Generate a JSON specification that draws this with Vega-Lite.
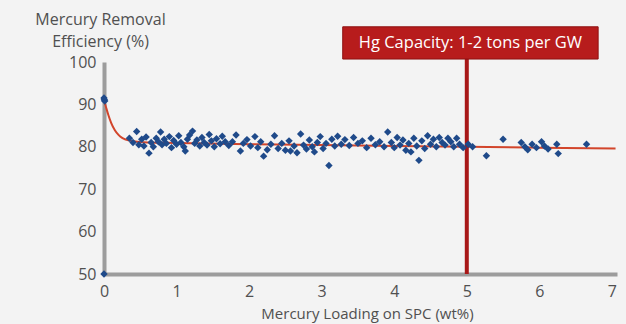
{
  "$schema": "https://vega.github.io/schema/vega-lite/v6.json",
  "width": 513,
  "height": 212,
  "autosize": {"type": "none"},
  "padding": {"left": 104, "top": 62, "right": 9, "bottom": 50},
  "background": "#f3f3f3",
  "config": {
    "view": {"stroke": null},
    "font": "Open Sans",
    "axis": {
      "domainColor": "#9c9c9c",
      "domainWidth": 4,
      "ticks": false,
      "grid": false,
      "zindex": 0,
      "labelFlush": false,
      "labelFont": "Open Sans",
      "labelFontSize": 16,
      "labelColor": "#505050",
      "titleFont": "Open Sans",
      "titleFontSize": 15,
      "titleFontWeight": "normal",
      "titleColor": "#505050"
    }
  },
  "datasets": {
    "points": [
      {"x": 0, "y": 91.5}, {"x": 0.01, "y": 90.8}, {"x": 0.005, "y": 91.1}, {"x": 0, "y": 50},
      {"x": 0.35, "y": 82.0}, {"x": 0.4, "y": 81.0}, {"x": 0.45, "y": 83.6}, {"x": 0.48, "y": 80.5},
      {"x": 0.52, "y": 81.8}, {"x": 0.55, "y": 80.2}, {"x": 0.58, "y": 82.3}, {"x": 0.62, "y": 78.5},
      {"x": 0.65, "y": 81.0}, {"x": 0.68, "y": 80.0}, {"x": 0.72, "y": 82.0}, {"x": 0.75, "y": 81.2},
      {"x": 0.78, "y": 83.5}, {"x": 0.8, "y": 80.5}, {"x": 0.83, "y": 81.8}, {"x": 0.86, "y": 80.8},
      {"x": 0.9, "y": 82.4}, {"x": 0.93, "y": 79.8}, {"x": 0.96, "y": 81.5}, {"x": 1.0, "y": 80.6},
      {"x": 1.03, "y": 82.6}, {"x": 1.06, "y": 81.0}, {"x": 1.1, "y": 80.0}, {"x": 1.12, "y": 79.0},
      {"x": 1.15, "y": 81.8}, {"x": 1.18, "y": 82.8}, {"x": 1.22, "y": 83.7}, {"x": 1.25, "y": 80.8},
      {"x": 1.28, "y": 81.6}, {"x": 1.32, "y": 80.2}, {"x": 1.35, "y": 82.2}, {"x": 1.38, "y": 81.0},
      {"x": 1.42, "y": 80.4}, {"x": 1.45, "y": 82.9}, {"x": 1.48, "y": 81.4}, {"x": 1.52, "y": 80.0},
      {"x": 1.55, "y": 81.9}, {"x": 1.6, "y": 80.7}, {"x": 1.63, "y": 82.5}, {"x": 1.67, "y": 81.2},
      {"x": 1.72, "y": 80.3}, {"x": 1.77, "y": 81.2}, {"x": 1.82, "y": 82.8}, {"x": 1.88, "y": 79.0},
      {"x": 1.92, "y": 80.8}, {"x": 1.97, "y": 81.7}, {"x": 2.02, "y": 80.2}, {"x": 2.08, "y": 82.4},
      {"x": 2.12, "y": 79.8}, {"x": 2.16, "y": 81.2}, {"x": 2.2, "y": 77.8}, {"x": 2.25, "y": 79.3},
      {"x": 2.3, "y": 80.6}, {"x": 2.35, "y": 82.6}, {"x": 2.4, "y": 79.6}, {"x": 2.45, "y": 80.8},
      {"x": 2.5, "y": 79.2}, {"x": 2.55, "y": 81.4}, {"x": 2.57, "y": 79.0}, {"x": 2.62, "y": 80.2},
      {"x": 2.66, "y": 78.6}, {"x": 2.71, "y": 83.0}, {"x": 2.75, "y": 80.4}, {"x": 2.79, "y": 79.5},
      {"x": 2.83, "y": 81.6}, {"x": 2.87, "y": 80.0}, {"x": 2.9, "y": 78.8}, {"x": 2.94, "y": 81.0},
      {"x": 2.98, "y": 82.4}, {"x": 3.02, "y": 79.6}, {"x": 3.06, "y": 80.8}, {"x": 3.1, "y": 75.6},
      {"x": 3.14, "y": 81.8}, {"x": 3.18, "y": 80.2}, {"x": 3.22, "y": 82.5}, {"x": 3.27, "y": 80.6},
      {"x": 3.32, "y": 81.7}, {"x": 3.38, "y": 80.3}, {"x": 3.44, "y": 82.2}, {"x": 3.5, "y": 80.8},
      {"x": 3.56, "y": 81.4}, {"x": 3.62, "y": 79.8}, {"x": 3.68, "y": 82.0}, {"x": 3.74, "y": 80.5},
      {"x": 3.8, "y": 81.2}, {"x": 3.86, "y": 80.0}, {"x": 3.91, "y": 83.5}, {"x": 3.96, "y": 81.0},
      {"x": 4.0, "y": 79.8}, {"x": 4.04, "y": 82.2}, {"x": 4.08, "y": 80.4}, {"x": 4.12, "y": 81.6},
      {"x": 4.16, "y": 79.2}, {"x": 4.2, "y": 80.8}, {"x": 4.23, "y": 78.8}, {"x": 4.27, "y": 82.0},
      {"x": 4.31, "y": 80.2}, {"x": 4.34, "y": 76.8}, {"x": 4.38, "y": 81.4}, {"x": 4.42, "y": 79.6},
      {"x": 4.46, "y": 82.6}, {"x": 4.5, "y": 80.6}, {"x": 4.54, "y": 81.8}, {"x": 4.58, "y": 80.0},
      {"x": 4.62, "y": 82.2}, {"x": 4.66, "y": 81.0}, {"x": 4.7, "y": 80.4}, {"x": 4.74, "y": 82.0},
      {"x": 4.78, "y": 81.2}, {"x": 4.82, "y": 80.0}, {"x": 4.86, "y": 82.0}, {"x": 4.9, "y": 80.6},
      {"x": 4.95, "y": 79.8}, {"x": 5.02, "y": 80.6}, {"x": 5.08, "y": 80.0}, {"x": 5.27, "y": 77.9},
      {"x": 5.5, "y": 81.8}, {"x": 5.75, "y": 81.0}, {"x": 5.8, "y": 80.0}, {"x": 5.84, "y": 79.3},
      {"x": 5.9, "y": 80.6}, {"x": 5.96, "y": 79.8}, {"x": 6.03, "y": 81.2}, {"x": 6.07, "y": 80.2},
      {"x": 6.12, "y": 79.5}, {"x": 6.24, "y": 80.6}, {"x": 6.26, "y": 78.4}, {"x": 6.65, "y": 80.6}
    ],
    "fit": [
      {"x": 0, "y": 91}, {"x": 0.03, "y": 89.2}, {"x": 0.06, "y": 87.5}, {"x": 0.1, "y": 85.6},
      {"x": 0.15, "y": 83.9}, {"x": 0.2, "y": 82.8}, {"x": 0.25, "y": 82.1}, {"x": 0.3, "y": 81.7},
      {"x": 0.4, "y": 81.3}, {"x": 0.6, "y": 81.0}, {"x": 1, "y": 80.9}, {"x": 2, "y": 80.6},
      {"x": 3, "y": 80.4}, {"x": 4, "y": 80.2}, {"x": 5, "y": 80.0}, {"x": 6, "y": 79.8}, {"x": 7.05, "y": 79.6}
    ],
    "marker": [{"x": 5, "y": 100.7, "y2": 50}],
    "box": [{"x": 3.29, "x2": 6.81, "y": 108.3, "y2": 100.7, "ym": 104.5, "xm": 5.05, "label": "Hg Capacity: 1-2 tons per GW"}]
  },
  "encoding": {
    "x": {
      "field": "x", "type": "quantitative",
      "scale": {"domain": [0, 7.07], "nice": false, "zero": false},
      "axis": {
        "values": [0, 1, 2, 3, 4, 5, 6, 7],
        "labelPadding": 9,
        "title": "Mercury Loading on SPC (wt%)",
        "titlePadding": 7,
        "titleX": 263
      }
    },
    "y": {
      "field": "y", "type": "quantitative",
      "scale": {"domain": [50, 100], "nice": false, "zero": false},
      "axis": {
        "values": [50, 60, 70, 80, 90, 100],
        "labelPadding": 8,
        "title": ["Mercury Removal", "Efficiency (%)"],
        "titleAngle": 0,
        "titleAlign": "center",
        "titleBaseline": "top",
        "titleX": -4,
        "titleY": -51,
        "titleFontSize": 16,
        "titleLineHeight": 22
      }
    }
  },
  "layer": [
    {
      "data": {"name": "fit"},
      "mark": {"type": "line", "color": "#d2452b", "strokeWidth": 2, "interpolate": "monotone"}
    },
    {
      "data": {"name": "marker"},
      "mark": {"type": "rule", "color": "#a81818", "strokeWidth": 4},
      "encoding": {"y2": {"field": "y2"}}
    },
    {
      "data": {"name": "box"},
      "mark": {"type": "rect", "fill": "#b71c1c", "stroke": "#8e1212", "strokeWidth": 1},
      "encoding": {"x2": {"field": "x2"}, "y2": {"field": "y2"}}
    },
    {
      "data": {"name": "box"},
      "mark": {"type": "text", "color": "#ffffff", "fontSize": 16.5, "font": "Open Sans", "align": "center", "baseline": "middle"},
      "encoding": {"x": {"field": "xm", "type": "quantitative"}, "y": {"field": "ym", "type": "quantitative"}, "text": {"field": "label"}}
    },
    {
      "data": {"name": "points"},
      "mark": {"type": "point", "shape": "diamond", "filled": true, "size": 55, "color": "#1f4a8a", "opacity": 1}
    }
  ]
}
